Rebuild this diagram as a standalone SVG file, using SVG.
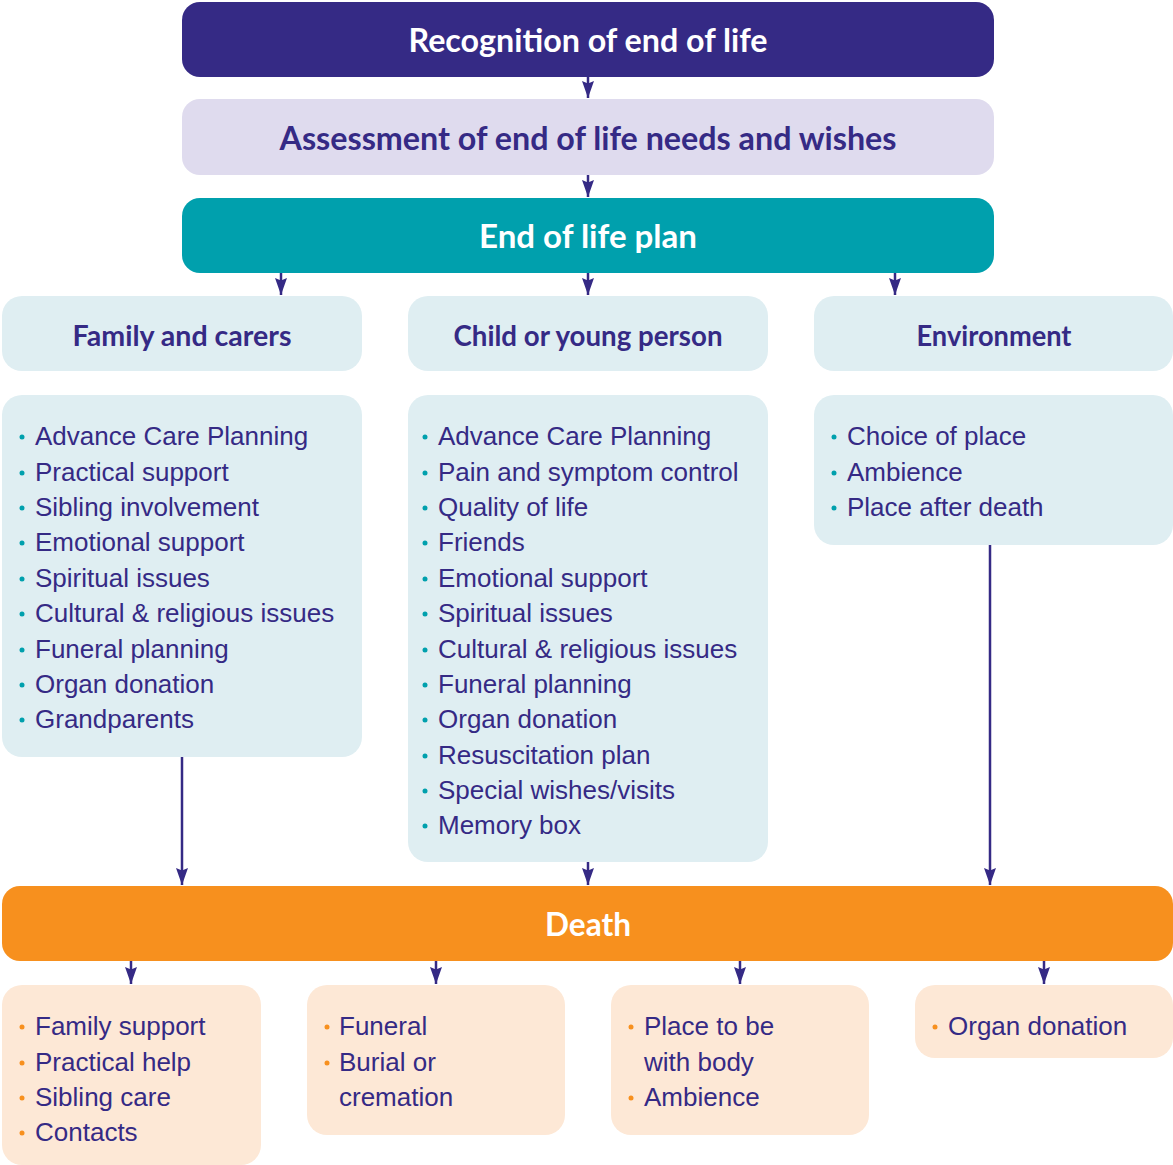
<svg xmlns="http://www.w3.org/2000/svg" width="1173" height="1165" viewBox="0 0 1173 1165">
  <defs>
    <marker id="arrow" viewBox="0 0 17 12" refX="17" refY="6" markerWidth="17" markerHeight="12" markerUnits="userSpaceOnUse" orient="auto">
      <path d="M0,0 L17,6 L0,12 L2.5,6 Z" fill="#352a85"/>
    </marker>
    <style>
      .title { font-family: Lato, "Noto Sans", sans-serif; font-weight: 700; text-anchor: middle; }
      .big { font-size: 33px; }
      .head { font-size: 28px; fill: #352a85; }
      .white { fill: #ffffff; }
      .purple { fill: #352a85; }
      .item { font-family: "Liberation Sans", Arial, sans-serif; font-size: 26px; fill: #352a85; }
      .dotT { fill: #00a0ad; }
      .dotO { fill: #f7901e; }
      .conn { stroke: #352a85; stroke-width: 2.5; fill: none; marker-end: url(#arrow); }
      .pale { fill: #dfeef2; }
      .peach { fill: #fde8d6; }
    </style>
  </defs>

  <!-- connectors -->
  <g id="connectors">
    <line class="conn" x1="588" y1="77" x2="588" y2="98"/>
    <line class="conn" x1="588" y1="175" x2="588" y2="197"/>
    <line class="conn" x1="281" y1="273" x2="281" y2="295"/>
    <line class="conn" x1="588" y1="273" x2="588" y2="295"/>
    <line class="conn" x1="895" y1="273" x2="895" y2="295"/>
    <line class="conn" x1="182" y1="757" x2="182" y2="885"/>
    <line class="conn" x1="588" y1="862" x2="588" y2="885"/>
    <line class="conn" x1="990" y1="545" x2="990" y2="885"/>
    <line class="conn" x1="131" y1="961" x2="131" y2="984"/>
    <line class="conn" x1="436" y1="961" x2="436" y2="984"/>
    <line class="conn" x1="740" y1="961" x2="740" y2="984"/>
    <line class="conn" x1="1044" y1="961" x2="1044" y2="984"/>
  </g>

  <g id="recognition">
    <rect x="182" y="2" width="812" height="75" rx="18" fill="#352a85"/>
    <text class="title big white" x="588" y="52" textLength="359" lengthAdjust="spacingAndGlyphs">Recognition of end of life</text>
  </g>

  <g id="assessment">
    <rect x="182" y="99" width="812" height="76" rx="18" fill="#dfdbee"/>
    <text class="title big purple" x="588" y="150" textLength="617" lengthAdjust="spacingAndGlyphs">Assessment of end of life needs and wishes</text>
  </g>

  <g id="plan">
    <rect x="182" y="198" width="812" height="75" rx="18" fill="#00a0ad"/>
    <text class="title big white" x="588" y="248" textLength="218" lengthAdjust="spacingAndGlyphs">End of life plan</text>
  </g>

  <g id="family-head">
    <rect class="pale" x="2" y="296" width="360" height="75" rx="20"/>
    <text class="title head" x="182" y="346" textLength="219" lengthAdjust="spacingAndGlyphs">Family and carers</text>
  </g>
  <g id="child-head">
    <rect class="pale" x="408" y="296" width="360" height="75" rx="20"/>
    <text class="title head" x="588" y="346" textLength="269" lengthAdjust="spacingAndGlyphs">Child or young person</text>
  </g>
  <g id="environment-head">
    <rect class="pale" x="814" y="296" width="359" height="75" rx="20"/>
    <text class="title head" x="994" y="346" textLength="155" lengthAdjust="spacingAndGlyphs">Environment</text>
  </g>

  <g id="family-list">
    <rect class="pale" x="2" y="395" width="360" height="362" rx="20"/>
    <g class="dotT">
      <circle cx="22" cy="437" r="2.5"/><circle cx="22" cy="473" r="2.5"/><circle cx="22" cy="508" r="2.5"/>
      <circle cx="22" cy="543" r="2.5"/><circle cx="22" cy="579" r="2.5"/><circle cx="22" cy="614" r="2.5"/>
      <circle cx="22" cy="650" r="2.5"/><circle cx="22" cy="685" r="2.5"/><circle cx="22" cy="720" r="2.5"/>
    </g>
    <text class="item" x="35" y="445">Advance Care Planning</text>
    <text class="item" x="35" y="481">Practical support</text>
    <text class="item" x="35" y="516">Sibling involvement</text>
    <text class="item" x="35" y="551">Emotional support</text>
    <text class="item" x="35" y="587">Spiritual issues</text>
    <text class="item" x="35" y="622">Cultural &amp; religious issues</text>
    <text class="item" x="35" y="658">Funeral planning</text>
    <text class="item" x="35" y="693">Organ donation</text>
    <text class="item" x="35" y="728">Grandparents</text>
  </g>

  <g id="child-list">
    <rect class="pale" x="408" y="395" width="360" height="467" rx="20"/>
    <g class="dotT">
      <circle cx="425" cy="437" r="2.5"/><circle cx="425" cy="473" r="2.5"/><circle cx="425" cy="508" r="2.5"/>
      <circle cx="425" cy="543" r="2.5"/><circle cx="425" cy="579" r="2.5"/><circle cx="425" cy="614" r="2.5"/>
      <circle cx="425" cy="650" r="2.5"/><circle cx="425" cy="685" r="2.5"/><circle cx="425" cy="720" r="2.5"/>
      <circle cx="425" cy="756" r="2.5"/><circle cx="425" cy="791" r="2.5"/><circle cx="425" cy="826" r="2.5"/>
    </g>
    <text class="item" x="438" y="445">Advance Care Planning</text>
    <text class="item" x="438" y="481">Pain and symptom control</text>
    <text class="item" x="438" y="516">Quality of life</text>
    <text class="item" x="438" y="551">Friends</text>
    <text class="item" x="438" y="587">Emotional support</text>
    <text class="item" x="438" y="622">Spiritual issues</text>
    <text class="item" x="438" y="658">Cultural &amp; religious issues</text>
    <text class="item" x="438" y="693">Funeral planning</text>
    <text class="item" x="438" y="728">Organ donation</text>
    <text class="item" x="438" y="764">Resuscitation plan</text>
    <text class="item" x="438" y="799">Special wishes/visits</text>
    <text class="item" x="438" y="834">Memory box</text>
  </g>

  <g id="environment-list">
    <rect class="pale" x="814" y="395" width="359" height="150" rx="20"/>
    <g class="dotT">
      <circle cx="834" cy="437" r="2.5"/><circle cx="834" cy="473" r="2.5"/><circle cx="834" cy="508" r="2.5"/>
    </g>
    <text class="item" x="847" y="445">Choice of place</text>
    <text class="item" x="847" y="481">Ambience</text>
    <text class="item" x="847" y="516">Place after death</text>
  </g>

  <g id="death">
    <rect x="2" y="886" width="1171" height="75" rx="18" fill="#f7901e"/>
    <text class="title big white" x="588" y="936" textLength="86" lengthAdjust="spacingAndGlyphs">Death</text>
  </g>

  <g id="after-family">
    <rect class="peach" x="2" y="985" width="259" height="180" rx="20"/>
    <g class="dotO">
      <circle cx="22" cy="1027" r="2.5"/><circle cx="22" cy="1063" r="2.5"/><circle cx="22" cy="1098" r="2.5"/><circle cx="22" cy="1133" r="2.5"/>
    </g>
    <text class="item" x="35" y="1035">Family support</text>
    <text class="item" x="35" y="1071">Practical help</text>
    <text class="item" x="35" y="1106">Sibling care</text>
    <text class="item" x="35" y="1141">Contacts</text>
  </g>

  <g id="after-funeral">
    <rect class="peach" x="307" y="985" width="258" height="150" rx="20"/>
    <g class="dotO">
      <circle cx="327" cy="1027" r="2.5"/><circle cx="327" cy="1063" r="2.5"/>
    </g>
    <text class="item" x="339" y="1035">Funeral</text>
    <text class="item" x="339" y="1071">Burial or</text>
    <text class="item" x="339" y="1106">cremation</text>
  </g>

  <g id="after-place">
    <rect class="peach" x="611" y="985" width="258" height="150" rx="20"/>
    <g class="dotO">
      <circle cx="631" cy="1027" r="2.5"/><circle cx="631" cy="1098" r="2.5"/>
    </g>
    <text class="item" x="644" y="1035">Place to be</text>
    <text class="item" x="644" y="1071">with body</text>
    <text class="item" x="644" y="1106">Ambience</text>
  </g>

  <g id="after-organ">
    <rect class="peach" x="915" y="985" width="258" height="73" rx="20"/>
    <circle class="dotO" cx="935" cy="1027" r="2.5"/>
    <text class="item" x="948" y="1035">Organ donation</text>
  </g>
</svg>
